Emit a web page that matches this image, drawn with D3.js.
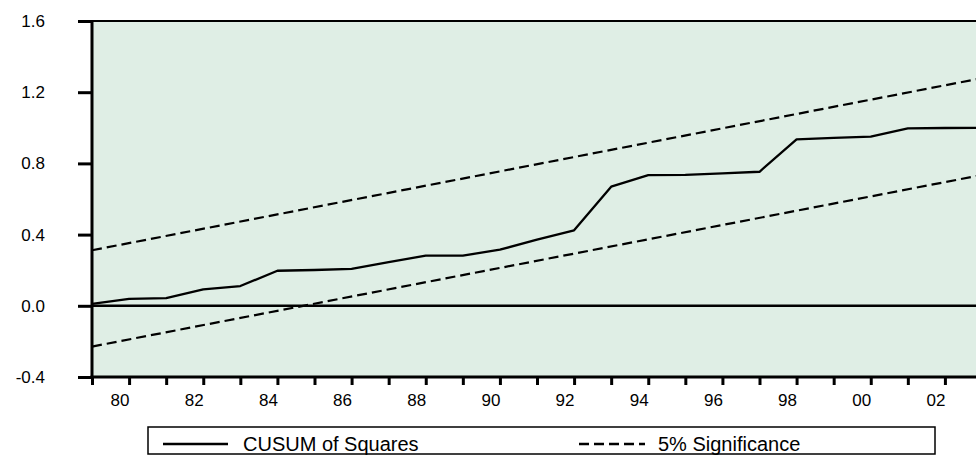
<!DOCTYPE html>
<html>
<head>
<meta charset="utf-8">
<script src="https://cdn.jsdelivr.net/npm/d3@7"></script>
<style>
  body { margin: 0; background: #fff; }
  svg { display: block; overflow: hidden; }
  text { font-family: "Liberation Sans", Arial, sans-serif; fill: #000; }
</style>
</head>
<body>
<div id="chart"></div>
<script>
// data
const years = [1979, 1980, 1981, 1982, 1983, 1984, 1985, 1986, 1987, 1988, 1989, 1990,
               1991, 1992, 1993, 1994, 1995, 1996, 1997, 1998, 1999, 2000, 2001, 2002, 2003];
const cusumSq = [0.011, 0.039, 0.043, 0.092, 0.111, 0.197, 0.201, 0.207, 0.245, 0.282, 0.282, 0.315,
                 0.372, 0.424, 0.669, 0.734, 0.736, 0.744, 0.753, 0.935, 0.943, 0.950, 0.997, 0.999, 1.000];
const sigYears = [1979, 2003];
const upperBand = [0.312, 1.279];
const lowerBand = [-0.229, 0.735];
const yTicks = [-0.4, 0.0, 0.4, 0.8, 1.2, 1.6];
const xTickYears = [1979, 1980, 1981, 1982, 1983, 1984, 1985, 1986, 1987, 1988, 1989, 1990,
                    1991, 1992, 1993, 1994, 1995, 1996, 1997, 1998, 1999, 2000, 2001, 2002];
const xLabelYears = [1980, 1982, 1984, 1986, 1988, 1990, 1992, 1994, 1996, 1998, 2000, 2002];
const legendLabels = ["CUSUM of Squares", "5% Significance"];

document.addEventListener('DOMContentLoaded', function() {
    drawChart();

    function drawChart() {
        const W = 976, H = 457;
        const margin = {top: 21, right: -6, bottom: 80, left: 92};
        const width = W - margin.left - margin.right,
              height = H - margin.top - margin.bottom;

        const svg = d3.select("#chart")
          .append("svg")
            .attr("width", W)
            .attr("height", H);

        const g = svg.append("g")
            .attr("transform", "translate(" + margin.left + "," + margin.top + ")");

        const x = d3.scaleLinear()
          .domain([1979, 2003])
          .range([0, width]);
        const y = d3.scaleLinear()
          .domain([-0.4, 1.6])
          .range([height, 0]);

        // plot background
        g.append("rect")
            .attr("x", 0).attr("y", 0)
            .attr("width", width).attr("height", height)
            .attr("fill", "#dfeee5");

        // zero line
        g.append("line")
            .attr("x1", 0).attr("x2", width)
            .attr("y1", y(0)).attr("y2", y(0))
            .attr("stroke", "#000").attr("stroke-width", 2.5);

        // 5% significance bands
        const line = d3.line()
            .x(function(d) { return x(d[0]); })
            .y(function(d) { return y(d[1]); });
        [upperBand, lowerBand].forEach(function(b) {
            g.append("path")
                .datum(sigYears.map(function(yr, i) { return [yr, b[i]]; }))
                .attr("d", line)
                .attr("fill", "none")
                .attr("stroke", "#000")
                .attr("stroke-width", 2.2)
                .attr("stroke-dasharray", "10,5");
        });

        // cusum of squares
        g.append("path")
            .datum(years.map(function(yr, i) { return [yr, cusumSq[i]]; }))
            .attr("d", line)
            .attr("fill", "none")
            .attr("stroke", "#000")
            .attr("stroke-width", 2.3)
            .attr("stroke-linejoin", "round");

        // top border
        g.append("line")
            .attr("x1", 0).attr("x2", width)
            .attr("y1", 0).attr("y2", 0)
            .attr("stroke", "#000").attr("stroke-width", 2);

        // Y axis
        const yAxis = g.append("g")
            .call(d3.axisLeft(y)
                .tickValues(yTicks)
                .tickSize(14)
                .tickPadding(33)
                .tickFormat(function(d) { return d.toFixed(1); }));
        yAxis.select(".domain").remove();
        yAxis.selectAll(".tick line").attr("stroke-width", 3);
        yAxis.selectAll("text")
            .style("font-size", "17px")
            .style("font-family", "'Liberation Sans', Arial, sans-serif");
        g.append("line")
            .attr("x1", 0).attr("x2", 0)
            .attr("y1", -1).attr("y2", height + 1.5)
            .attr("stroke", "#000").attr("stroke-width", 3);

        // X axis
        const xAxis = g.append("g")
            .attr("transform", "translate(0," + height + ")")
            .call(d3.axisBottom(x)
                .tickValues(xTickYears)
                .tickSize(8)
                .tickFormat(""));
        xAxis.select(".domain").remove();
        xAxis.selectAll(".tick line").attr("stroke-width", 3);
        g.append("line")
            .attr("x1", -1.5).attr("x2", width)
            .attr("y1", height).attr("y2", height)
            .attr("stroke", "#000").attr("stroke-width", 3);

        g.append("g")
          .selectAll("text")
          .data(xLabelYears)
          .enter()
          .append("text")
            .attr("x", function(d) { return x(d) - 9; })
            .attr("y", height + 29)
            .attr("text-anchor", "middle")
            .style("font-size", "17px")
            .text(function(d) { return String(d).slice(2); });

        // legend
        const leg = svg.append("g");
        leg.append("rect")
            .attr("x", 148).attr("y", 427)
            .attr("width", 787).attr("height", 27)
            .attr("fill", "#fff")
            .attr("stroke", "#000")
            .attr("stroke-width", 1.5);
        leg.append("line")
            .attr("x1", 163).attr("x2", 228)
            .attr("y1", 444).attr("y2", 444)
            .attr("stroke", "#000").attr("stroke-width", 2.5);
        leg.append("text")
            .attr("x", 243).attr("y", 451)
            .style("font-size", "20px")
            .text(legendLabels[0]);
        leg.append("line")
            .attr("x1", 579).attr("x2", 645)
            .attr("y1", 444).attr("y2", 444)
            .attr("stroke", "#000").attr("stroke-width", 2.5)
            .attr("stroke-dasharray", "10,5");
        leg.append("text")
            .attr("x", 658).attr("y", 451)
            .style("font-size", "20px")
            .text(legendLabels[1]);
    }
});
</script>
</body>
</html>
